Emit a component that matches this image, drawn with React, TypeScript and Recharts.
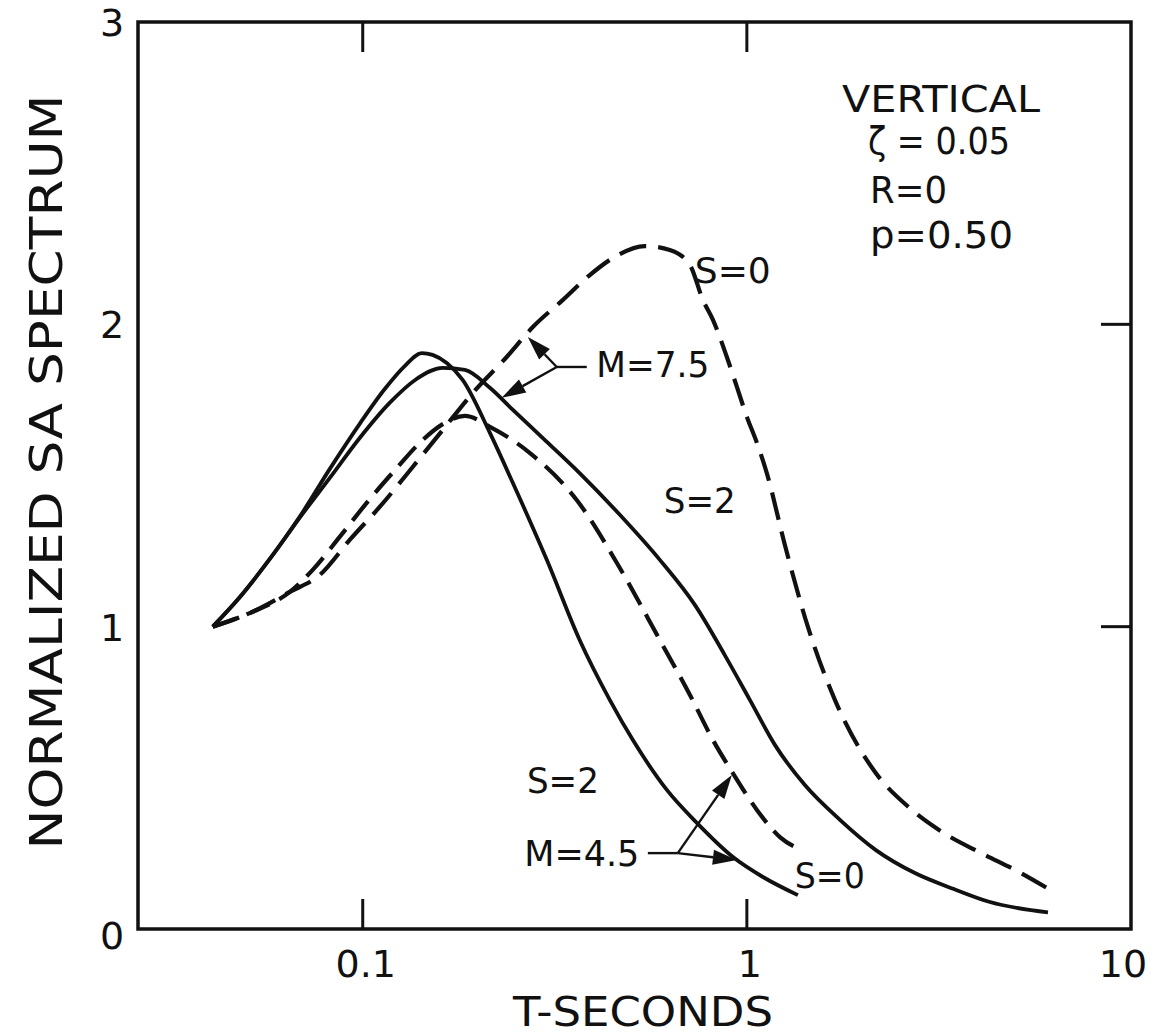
import React from "react";
import {
  LineChart,
  Line,
  XAxis,
  YAxis,
  ReferenceArea,
  ReferenceLine,
  ReferenceDot,
} from "recharts";

const INK = "#111";
const FONT = "'DejaVu Sans', sans-serif";

// T (seconds) vs normalized SA
const m45s2T = [0.0407, 0.0479, 0.0573, 0.0685, 0.0821, 0.0982, 0.1141, 0.1286, 0.1425, 0.152, 0.1655, 0.182, 0.2143, 0.246, 0.3014, 0.367, 0.4396, 0.505, 0.619, 0.741, 0.92, 1.101, 1.358];
const m45s2SA = [1.0, 1.098, 1.224, 1.363, 1.522, 1.671, 1.786, 1.862, 1.905, 1.899, 1.872, 1.816, 1.641, 1.475, 1.221, 0.956, 0.758, 0.625, 0.46, 0.351, 0.238, 0.172, 0.112];

const m75s2T = [0.0407, 0.0479, 0.0573, 0.0685, 0.0821, 0.0982, 0.1175, 0.1369, 0.1616, 0.1845, 0.2143, 0.246, 0.3, 0.367, 0.467, 0.5935, 0.7322, 0.876, 1.018, 1.183, 1.416, 1.747, 2.167, 2.738, 3.459, 4.27, 6.08];
const m75s2SA = [1.0, 1.098, 1.224, 1.36, 1.492, 1.624, 1.74, 1.816, 1.856, 1.849, 1.79, 1.717, 1.614, 1.508, 1.37, 1.221, 1.072, 0.906, 0.758, 0.609, 0.476, 0.361, 0.261, 0.185, 0.132, 0.09, 0.055];

const m45s0T = [0.0407, 0.0508, 0.0646, 0.0741, 0.0871, 0.1043, 0.1227, 0.1407, 0.1635, 0.1845, 0.2143, 0.272, 0.3606, 0.467, 0.5935, 0.711, 0.816, 0.919, 1.062, 1.219, 1.391];
const m45s0SA = [1.0, 1.045, 1.115, 1.188, 1.297, 1.422, 1.525, 1.608, 1.674, 1.697, 1.661, 1.575, 1.419, 1.194, 0.956, 0.774, 0.625, 0.516, 0.394, 0.304, 0.261];

const m75s0T = [0.0407, 0.0508, 0.0646, 0.0773, 0.0925, 0.1107, 0.1349, 0.1616, 0.1934, 0.237, 0.2772, 0.332, 0.39, 0.453, 0.542, 0.63, 0.711, 0.768, 0.816, 0.887, 0.942, 1.0, 1.062, 1.127, 1.256, 1.442, 1.695, 2.154, 2.655, 3.279, 4.09, 5.17, 6.15];
const m75s0SA = [1.0, 1.045, 1.115, 1.171, 1.287, 1.396, 1.528, 1.651, 1.773, 1.892, 1.991, 2.081, 2.163, 2.223, 2.259, 2.246, 2.196, 2.081, 2.015, 1.892, 1.793, 1.694, 1.608, 1.508, 1.27, 0.999, 0.758, 0.52, 0.4, 0.315, 0.25, 0.185, 0.13];

const xTicks = [0.1, 1, 10];
const xTickLabels = ["0.1", "1", "10"];
const yTicks = [0, 1, 2, 3];
const X_MIN = 0.026;
const X_MAX = 10;
const Y_MAX = 3;

const zip = (t: number[], sa: number[]) => t.map((T, i) => ({ T, SA: sa[i] }));

const W = 1154;
const H = 1036;
const LEFT = 138;
const TOP = 22;
const RIGHT = 23;
const BOTTOM = 107;
const PLOT_W = W - LEFT - RIGHT;
const PLOT_H = H - TOP - BOTTOM;
const TICK = 30;

function XTick(props: any) {
  const { x, y, payload } = props;
  const v = payload.value;
  const i = xTicks.indexOf(v);
  const inner = v < 10;
  return (
    <g>
      {inner && <line x1={x} y1={y} x2={x} y2={y - TICK} stroke={INK} strokeWidth={3} />}
      {inner && <line x1={x} y1={y - PLOT_H} x2={x} y2={y - PLOT_H + TICK} stroke={INK} strokeWidth={3} />}
      <text
        x={v === 10 ? x - 8 : x + 3}
        y={y + 48}
        textAnchor="middle"
        fontFamily={FONT}
        fontSize={38}
        fill={INK}
      >
        {xTickLabels[i]}
      </text>
    </g>
  );
}

function YTick(props: any) {
  const { x, y, payload } = props;
  const v = payload.value;
  const inner = v === 1 || v === 2;
  return (
    <g>
      {inner && <line x1={x + PLOT_W} y1={y} x2={x + PLOT_W - TICK} y2={y} stroke={INK} strokeWidth={3} />}
      <text
        x={x - 26}
        y={v === 0 ? y + 20 : y + 14}
        textAnchor="middle"
        fontFamily={FONT}
        fontSize={38}
        fill={INK}
      >
        {v}
      </text>
    </g>
  );
}

function Leader(props: any) {
  const { x1, y1, x2, y2, head } = props;
  const dx = x2 - x1;
  const dy = y2 - y1;
  const len = Math.hypot(dx, dy) || 1;
  const ux = dx / len;
  const uy = dy / len;
  const hl = 24;
  const hw = 7.5;
  const bx = x2 - ux * hl;
  const by = y2 - uy * hl;
  return (
    <g>
      <line x1={x1} y1={y1} x2={head ? bx : x2} y2={head ? by : y2} stroke={INK} strokeWidth={2.4} />
      {head && (
        <polygon
          points={`${x2},${y2} ${bx - uy * hw},${by + ux * hw} ${bx + uy * hw},${by - ux * hw}`}
          fill={INK}
        />
      )}
    </g>
  );
}

const note = (text: string, len: number) => (p: any) => (
  <text
    x={p.cx}
    y={p.cy + 13}
    textAnchor="middle"
    fontFamily={FONT}
    fontSize={36}
    fill={INK}
    textLength={len}
    lengthAdjust="spacingAndGlyphs"
  >
    {text}
  </text>
);

const seg = (a: [number, number], b: [number, number], head: boolean, key: string) => (
  <ReferenceLine
    key={key}
    segment={[{ x: a[0], y: a[1] }, { x: b[0], y: b[1] }]}
    shape={(p: any) => <Leader {...p} head={head} />}
  />
);

export default function App() {
  const lineCommon = {
    dataKey: "SA",
    type: "monotone" as const,
    stroke: INK,
    dot: false,
    activeDot: false,
    isAnimationActive: false,
  };
  return (
    <div style={{ position: "absolute", left: 0, top: 0, width: W, height: H, background: "#fff" }}>
      <LineChart width={W} height={H} margin={{ top: TOP, right: RIGHT, bottom: 0, left: 0 }}>
        <XAxis
          type="number"
          dataKey="T"
          scale="log"
          domain={[X_MIN, X_MAX]}
          ticks={xTicks}
          allowDataOverflow
          height={BOTTOM}
          axisLine={false}
          tickLine={false}
          tickSize={0}
          tickMargin={0}
          tick={<XTick />}
          interval={0}
        />
        <YAxis
          type="number"
          domain={[0, Y_MAX]}
          ticks={yTicks}
          allowDataOverflow
          width={LEFT}
          axisLine={false}
          tickLine={false}
          tickSize={0}
          tickMargin={0}
          tick={<YTick />}
          interval={0}
        />
        <ReferenceArea
          x1={X_MIN}
          x2={X_MAX}
          y1={0}
          y2={Y_MAX}
          fill="none"
          fillOpacity={0}
          stroke={INK}
          strokeWidth={3.5}
          strokeOpacity={1}
          ifOverflow="visible"
        />
        <Line {...lineCommon} data={zip(m45s2T, m45s2SA)} strokeWidth={3.8} />
        <Line {...lineCommon} data={zip(m75s2T, m75s2SA)} strokeWidth={3.8} />
        <Line {...lineCommon} data={zip(m45s0T, m45s0SA)} strokeWidth={4.2} strokeDasharray="25 11" />
        <Line {...lineCommon} data={zip(m75s0T, m75s0SA)} strokeWidth={4.2} strokeDasharray="28 12" />

        {seg([0.32, 1.859], [0.383, 1.859], false, "m75h")}
        {seg([0.32, 1.859], [0.269, 1.958], true, "m75a")}
        {seg([0.32, 1.859], [0.23, 1.757], true, "m75b")}
        {seg([0.5524, 0.251], [0.661, 0.251], false, "m45h")}
        {seg([0.661, 0.251], [0.914, 0.509], true, "m45a")}
        {seg([0.661, 0.251], [0.942, 0.228], true, "m45b")}

        <ReferenceDot x={0.569} y={1.869} r={0} shape={note("M=7.5", 113)} />
        <ReferenceDot x={0.3718} y={0.251} r={0} shape={note("M=4.5", 115)} />
        <ReferenceDot x={0.919} y={2.18} r={0} shape={note("S=0", 76)} />
        <ReferenceDot x={0.754} y={1.419} r={0} shape={note("S=2", 72)} />
        <ReferenceDot x={0.332} y={0.493} r={0} shape={note("S=2", 72)} />
        <ReferenceDot x={1.644} y={0.179} r={0} shape={note("S=0", 70)} />
      </LineChart>
      <svg
        width={W}
        height={H}
        style={{ position: "absolute", left: 0, top: 0, pointerEvents: "none" }}
        fontFamily={FONT}
        fill={INK}
      >
        <g fontSize={37}>
          <text x={842} y={112} textLength={198} lengthAdjust="spacingAndGlyphs">VERTICAL</text>
          <text x={868} y={154} textLength={142} lengthAdjust="spacingAndGlyphs">ζ = 0.05</text>
          <text x={870} y={203} textLength={77} lengthAdjust="spacingAndGlyphs">R=0</text>
          <text x={870} y={248} textLength={143} lengthAdjust="spacingAndGlyphs">p=0.50</text>
        </g>
        <text x={643} y={1026} textAnchor="middle" fontSize={40} textLength={260} lengthAdjust="spacingAndGlyphs">
          T-SECONDS
        </text>
        <text
          transform="translate(62,472) rotate(-90)"
          textAnchor="middle"
          fontSize={45}
          textLength={755}
          lengthAdjust="spacingAndGlyphs"
        >
          NORMALIZED SA SPECTRUM
        </text>
      </svg>
    </div>
  );
}
